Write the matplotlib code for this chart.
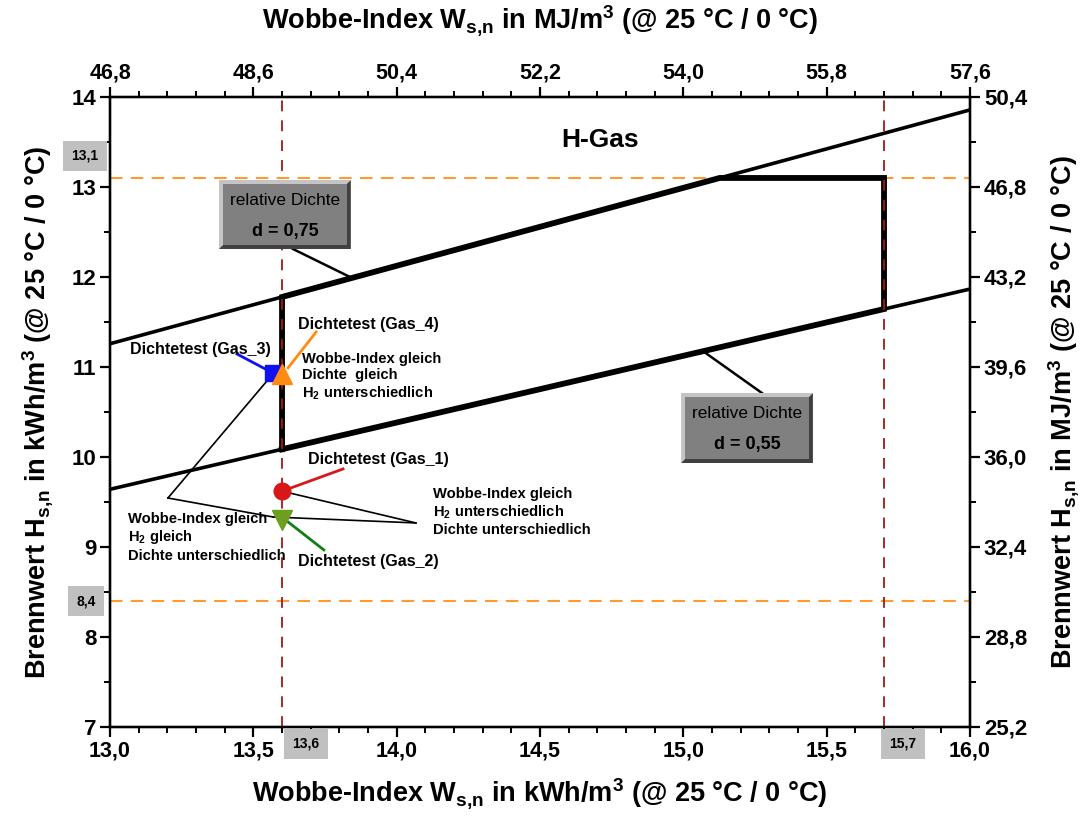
import matplotlib
matplotlib.use("Agg")
import matplotlib.pyplot as plt
import numpy as np
from matplotlib.ticker import MultipleLocator, FuncFormatter
from matplotlib.patches import Rectangle, Polygon

# ---------------- data ----------------
dichte = [0.75, 0.55]                 # relative density boundary lines
wobbe_range = [13.0, 16.0]            # kWh/m3
hgas_w = [13.6, 15.7]                 # Wobbe-index limits of the H-gas region
hgas_hs = [8.4, 13.1]                 # calorific value limits
gas_names = ["Gas_1", "Gas_2", "Gas_3", "Gas_4"]
gas_w = [13.6, 13.6, 13.57, 13.6]
gas_hs = [9.62, 9.30, 10.93, 10.92]
gas_colors = ["#d81818", "#6e9e1e", "#1010f0", "#ff8c10"]
gas_markers = ["o", "v", "s", "^"]
x_ticks = [13.0, 13.5, 14.0, 14.5, 15.0, 15.5, 16.0]
y_ticks = [7, 8, 9, 10, 11, 12, 13, 14]
MJ_PER_KWH = 3.6

NARROW = ["Liberation Sans Narrow", "Liberation Sans", "DejaVu Sans"]
WIDE = ["Liberation Sans", "DejaVu Sans"]
plt.rcParams["font.family"] = NARROW
plt.rcParams["mathtext.fontset"] = "custom"
plt.rcParams["mathtext.rm"] = "Liberation Sans:bold"
plt.rcParams["mathtext.it"] = "Liberation Sans:bold"
plt.rcParams["mathtext.bf"] = "Liberation Sans:bold"

fig = plt.figure(figsize=(10.82, 8.17), dpi=100)
ax = fig.add_axes([0.1017, 0.1102, 0.7948, 0.7711])
ax.set_xlim(*wobbe_range)
ax.set_ylim(7, 14)

comma = lambda fmt: FuncFormatter(lambda v, p: (fmt % v).replace(".", ","))

# boundary lines Hs = W * sqrt(d)
w = np.array(wobbe_range)
for d in dichte:
    ax.plot(w, w * np.sqrt(d), color="black", lw=2.6, zorder=3, solid_capstyle="butt")

# H-gas region outline
w_lo, w_hi = hgas_w
s_hi, s_lo = np.sqrt(dichte[0]), np.sqrt(dichte[1])
w_top = hgas_hs[1] / s_hi
poly_w = [w_lo, w_lo, w_top, w_hi, w_hi, w_lo]
poly_h = [w_lo * s_lo, w_lo * s_hi, hgas_hs[1], hgas_hs[1], w_hi * s_lo, w_lo * s_lo]
ax.plot(poly_w, poly_h, color="black", lw=4.2, zorder=4, solid_joinstyle="miter")

# limit lines
for wv in hgas_w:
    ax.axvline(wv, color="#a01818", lw=1.3, ls=(0, (6, 5)), zorder=5, clip_on=False)
for hv in hgas_hs:
    ax.axhline(hv, color="#ff9a30", lw=1.5, ls=(0, (6, 4)), zorder=2, clip_on=False)

# annotation lines
def seg(p, q, color="black", lw=1.2):
    ax.plot([p[0], q[0]], [p[1], q[1]], color=color, lw=lw, zorder=6)

seg((13.443, 11.144), (gas_w[2], gas_hs[2]), "#1010f0", 2.0)
seg((13.719, 11.389), (13.621, 10.99), "#ff8c10", 2.0)
seg((13.813, 9.867), (gas_w[0], gas_hs[0]), "#d81818", 2.0)
seg((13.746, 8.967), (13.621, 9.278), "#108010", 2.0)
seg((14.067, 9.267), (gas_w[0], gas_hs[0]))
seg((14.067, 9.267), (13.569, 9.333))
seg((13.202, 9.544), (13.569, 9.333))
seg((13.202, 9.544), (13.565, 10.911))

# gas markers
sizes = [12, 14, 11, 15]
for wv, hv, c, m, s in zip(gas_w, gas_hs, gas_colors, gas_markers, sizes):
    ax.plot([wv], [hv], marker=m, ms=s, color=c, mec=c, ls="none", zorder=7)

# texts
H2 = "H$_{\\mathregular{2}}$"
tk = dict(fontsize=11.5, fontweight="bold", family=WIDE, zorder=8)
ts = dict(fontsize=10.6, fontweight="bold", family=NARROW, zorder=8, linespacing=1.2)
ax.text(13.070, 11.189, "Dichtetest (Gas_3)", va="center", ha="left", **tk)
ax.text(13.656, 11.467, "Dichtetest (Gas_4)", va="center", ha="left", **tk)
ax.text(13.691, 9.967, "Dichtetest (Gas_1)", va="center", ha="left", **tk)
ax.text(13.656, 8.844, "Dichtetest (Gas_2)", va="center", ha="left", **tk)
ax.text(13.670, 11.17, "Wobbe-Index gleich\nDichte  gleich\n" + H2 + " unterschiedlich",
        va="top", ha="left", **ts)
ax.text(14.127, 9.67, "Wobbe-Index gleich\n" + H2 + " unterschiedlich\nDichte unterschiedlich",
        va="top", ha="left", **ts)
ax.text(13.063, 9.39, "Wobbe-Index gleich\n" + H2 + " gleich\nDichte unterschiedlich",
        va="top", ha="left", **ts)
ax.text(14.709, 13.522, "H-Gas", ha="center", va="center", fontsize=19,
        fontweight="bold", family=WIDE, zorder=8)

# bevelled density boxes
def bevel_box(x0, x1, y0, y1, value, leader):
    bw_x = 4 / (fig.bbox.width * 0.7948) * 3.0
    bw_y = 4 / (fig.bbox.height * 0.7711) * 7.0
    ax.add_patch(Polygon([(x0, y0), (x0, y1), (x1, y1), (x1 - bw_x, y1 - bw_y),
                          (x0 + bw_x, y1 - bw_y), (x0 + bw_x, y0 + bw_y)],
                         closed=True, fc="#c4c4c4", ec="none", zorder=9))
    ax.add_patch(Polygon([(x0, y0), (x1, y0), (x1, y1), (x1 - bw_x, y1 - bw_y),
                          (x1 - bw_x, y0 + bw_y), (x0 + bw_x, y0 + bw_y)],
                         closed=True, fc="#404040", ec="none", zorder=9))
    ax.add_patch(Rectangle((x0 + bw_x, y0 + bw_y), x1 - x0 - 2 * bw_x, y1 - y0 - 2 * bw_y,
                           fc="#808080", ec="none", zorder=9))
    xc = (x0 + x1) / 2
    ax.text(xc, y1 - (y1 - y0) * 0.30, "relative Dichte", ha="center", va="center",
            fontsize=12.5, family=NARROW, zorder=10)
    ax.text(xc, y1 - (y1 - y0) * 0.74, "d = " + value, ha="center", va="center",
            fontsize=13, fontweight="bold", family=WIDE, zorder=10)
    ax.plot([leader[0][0], leader[1][0]], [leader[0][1], leader[1][1]],
            color="black", lw=1.8, zorder=6)

bevel_box(13.380, 13.840, 12.311, 13.078, "0,75", ((13.638, 12.311), (13.844, 11.989)))
bevel_box(14.992, 15.452, 9.933, 10.711, "0,55", ((15.274, 10.711), (15.069, 11.175)))

# primary axes styling
ax.set_xticks(x_ticks)
ax.set_yticks(y_ticks)
ax.xaxis.set_minor_locator(MultipleLocator(0.1))
ax.yaxis.set_minor_locator(MultipleLocator(0.5))
ax.xaxis.set_major_formatter(comma("%.1f"))
ax.yaxis.set_major_formatter(comma("%d"))
for sp in ax.spines.values():
    sp.set_linewidth(1.6)
ax.tick_params(which="major", direction="out", length=7, width=1.6, pad=3)
ax.tick_params(which="minor", direction="out", length=4, width=1.4)
ax.tick_params(axis="x", labelsize=15.5)
ax.tick_params(axis="y", labelsize=16)
for lab in ax.get_xticklabels():
    lab.set_fontweight("bold")
for lab in ax.get_yticklabels():
    lab.set_fontweight("bold")
    lab.set_family(WIDE)

SN = "$_{\\mathregular{s{,}n}}$"
M3 = "$^{\\mathregular{3}}$"
ax.set_xlabel("Wobbe-Index W" + SN + " in kWh/m" + M3 + " (@ 25 °C / 0 °C)",
              fontsize=19.5, fontweight="bold", labelpad=10)
ax.set_ylabel("Brennwert H" + SN + " in kWh/m" + M3 + " (@ 25 °C / 0 °C)",
              fontsize=19.5, fontweight="bold", labelpad=12)

# secondary axes in MJ/m3
axt = ax.twiny()
axt.set_xlim(wobbe_range[0] * MJ_PER_KWH, wobbe_range[1] * MJ_PER_KWH)
axt.xaxis.set_major_locator(MultipleLocator(1.8))
axt.xaxis.set_minor_locator(MultipleLocator(0.36))
axt.xaxis.set_major_formatter(comma("%.1f"))
axt.tick_params(which="major", direction="out", length=7, width=1.6, labelsize=15.5, pad=3)
axt.tick_params(which="minor", direction="out", length=4, width=1.4)
for lab in axt.get_xticklabels():
    lab.set_fontweight("bold")
axt.set_xlabel("Wobbe-Index W" + SN + " in MJ/m" + M3 + " (@ 25 °C / 0 °C)",
               fontsize=19.5, fontweight="bold", labelpad=24)

axr = ax.twinx()
axr.set_ylim(7 * MJ_PER_KWH, 14 * MJ_PER_KWH)
axr.yaxis.set_major_locator(MultipleLocator(3.6))
axr.yaxis.set_minor_locator(MultipleLocator(1.8))
axr.yaxis.set_major_formatter(comma("%.1f"))
axr.tick_params(which="major", direction="out", length=7, width=1.6, labelsize=16, pad=3)
axr.tick_params(which="minor", direction="out", length=4, width=1.4)
for lab in axr.get_yticklabels():
    lab.set_fontweight("bold")
    lab.set_family(WIDE)
axr.set_ylabel("Brennwert H" + SN + " in MJ/m" + M3 + " (@ 25 °C / 0 °C)",
               fontsize=19.5, fontweight="bold", labelpad=14)
for a in (axt, axr):
    for sp in a.spines.values():
        sp.set_linewidth(1.6)

# grey value labels of the limits
gl = dict(fontsize=10, fontweight="bold", family=WIDE, ha="center", va="center",
          bbox=dict(boxstyle="square,pad=0.6", fc="#c0c0c0", ec="none"))
fig.text(85 / 1082, 1 - 156 / 817, "13,1", **gl)
fig.text(86 / 1082, 1 - 601 / 817, "8,4", **gl)
fig.text(306 / 1082, 1 - 744 / 817, "13,6", **gl)
fig.text(903 / 1082, 1 - 744 / 817, "15,7", **gl)

fig.savefig("out.png", dpi=100)
